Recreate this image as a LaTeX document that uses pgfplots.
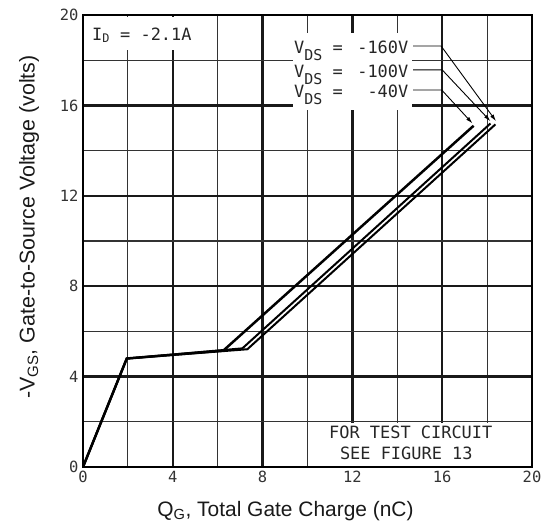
\documentclass[border=0pt]{standalone}
\usepackage{fontspec}
\setmainfont{Liberation Sans}
\newfontfamily\plotfont{DejaVu Sans Mono}
\usepackage{pgfplots}
\pgfplotsset{compat=1.18}
\usetikzlibrary{arrows.meta}

\newcommand{\vds}{V\raisebox{-7bp}{\fontsize{15}{15}\selectfont DS}}

\begin{document}
\begin{tikzpicture}
\path[use as bounding box] (-83bp,-62bp) rectangle (460bp,467bp);
\begin{axis}[
    at={(0,0)}, anchor=south west,
    scale only axis, width=449bp, height=452bp,
    xmin=0, xmax=20, ymin=0, ymax=20,
    xtick={0,4,...,20}, ytick={0,4,...,20},
    minor xtick={2,6,...,18}, minor ytick={2,6,...,18},
    grid=both,
    major grid style={line width=2.5bp, black!90},
    minor grid style={line width=1.2bp, black!80},
    axis line style={line width=2.8bp, black},
    major tick length=0pt, minor tick length=0pt,
    /pgf/number format/assume math mode=true,
    tick label style={font=\plotfont\fontsize{15.5}{15.5}\selectfont, text=black!80},
    xticklabel style={yshift=-1bp},
    yticklabel style={xshift=-1bp},
    label style={font=\fontsize{21}{24}\selectfont, text=black!90},
    xlabel={Q\textsubscript{G}, Total Gate Charge (nC)},
    ylabel={-V\textsubscript{GS}, Gate-to-Source Voltage (volts)},
    xlabel style={at={(axis description cs:0.451,-0.097)}, anchor=center},
    ylabel style={font=\fontsize{21.5}{24}\selectfont,
        at={(axis description cs:-0.12,0.531)}, anchor=center},
]

% white patches behind the notes
\fill[white] (axis cs:0.07,18.45) rectangle (axis cs:5.0,19.93);
\fill[white] (axis cs:9.35,15.8) rectangle (axis cs:14.65,19.2);
\fill[white] (axis cs:10.06,0.06) rectangle (axis cs:19.94,1.94);

% V_DS = -40V
\addplot[black, line width=2.5bp] coordinates {
    (0,0) (1.95,4.8) (6.25,5.15) (17.4,15.1)
};
% V_DS = -100V
\addplot[black, line width=2bp] coordinates {
    (0,0) (1.95,4.8) (7.1,5.25) (18.15,15.2)
};
% V_DS = -160V
\addplot[black, line width=2bp] coordinates {
    (0,0) (1.95,4.8) (7.32,5.21) (18.37,15.16)
};

% leaders
\addplot[black, line width=0.9bp, -{Latex[length=7bp,width=4bp]}] coordinates {
    (14.7,18.63) (15.95,18.63) (18.4,15.3)
};
\addplot[black, line width=0.9bp, -{Latex[length=7bp,width=4bp]}] coordinates {
    (14.7,17.57) (16.0,17.57) (18.15,15.3)
};
\addplot[black, line width=0.9bp, -{Latex[length=7bp,width=4bp]}] coordinates {
    (14.7,16.68) (15.98,16.68) (17.35,15.2)
};

\begin{scope}[font=\plotfont\fontsize{17}{17}\selectfont, text=black!85, inner sep=0pt]
\node[anchor=west] at (axis cs:0.4,19.1) {I\textsubscript{D} = -2.1A};
\node[anchor=base west] at (axis cs:9.4,18.3) {\vds{} =};
\node[anchor=base west] at (axis cs:9.4,17.25) {\vds{} =};
\node[anchor=base west] at (axis cs:9.4,16.35) {\vds{} =};
\node[anchor=base east] at (axis cs:14.5,18.3) {-160V};
\node[anchor=base east] at (axis cs:14.5,17.25) {-100V};
\node[anchor=base east] at (axis cs:14.5,16.35) {-40V};
\node at (axis cs:14.6,1.55) {FOR TEST CIRCUIT};
\node at (axis cs:14.4,0.6) {SEE FIGURE 13};
\end{scope}
\end{axis}
\end{tikzpicture}
\end{document}
